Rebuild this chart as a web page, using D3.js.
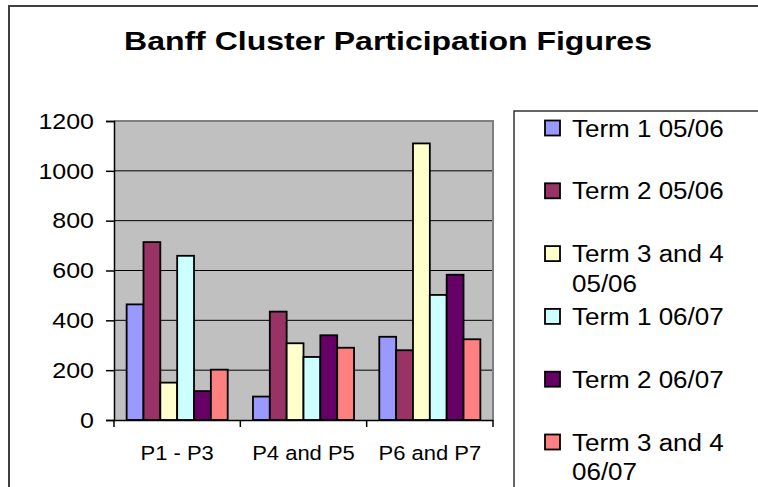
<!DOCTYPE html>
<html>
<head>
<meta charset="utf-8">
<script src="https://cdn.jsdelivr.net/npm/d3@7"></script>
<style>
  body { margin: 0; background: #fff; }
  text { font-family: "Liberation Sans", Arial, sans-serif; fill: #000; }
</style>
</head>
<body>
<script>
// data
var categories = ["P1 - P3", "P4 and P5", "P6 and P7"];
var seriesNames = [
  ["Term 1 05/06"],
  ["Term 2 05/06"],
  ["Term 3 and 4", "05/06"],
  ["Term 1 06/07"],
  ["Term 2 06/07"],
  ["Term 3 and 4", "06/07"]
];
var seriesColors = ["#9999ff", "#993366", "#ffffcc", "#ccffff", "#660066", "#ff8080"];
var term1_0506 = [464, 94, 334];
var term2_0506 = [714, 435, 280];
var term34_0506 = [150, 308, 1110];
var term1_0607 = [659, 253, 502];
var term2_0607 = [116, 340, 583];
var term34_0607 = [202, 290, 324];
var yTicks = [0, 200, 400, 600, 800, 1000, 1200];

var allSeries = [term1_0506, term2_0506, term34_0506, term1_0607, term2_0607, term34_0607];

var W = 758, H = 487;
var plot = {left: 114, top: 121, right: 493, bottom: 420};

var svg = d3.select("body").append("svg")
    .attr("width", W)
    .attr("height", H);

// outer chart frame
svg.append("rect")
    .attr("x", 9).attr("y", 6)
    .attr("width", W + 20).attr("height", H + 20)
    .attr("fill", "#fff")
    .attr("stroke", "#404040")
    .attr("stroke-width", 2);

// the original text is a bit squashed vertically, hence the scale(1, s)
svg.append("text")
    .attr("transform", "translate(388,50) scale(1,0.8)")
    .attr("text-anchor", "middle")
    .style("font-size", "32px")
    .style("font-weight", "bold")
    .text("Banff Cluster Participation Figures");

var x0 = d3.scaleBand()
    .domain(categories)
    .range([plot.left, plot.right])
    .padding(0);

var x1 = d3.scaleBand()
    .domain(d3.range(allSeries.length))
    .range([0, x0.bandwidth()])
    .paddingInner(0)
    .paddingOuter(0.75);

var y = d3.scaleLinear()
    .domain([0, 1200])
    .range([plot.bottom, plot.top]);

// plot background
svg.append("rect")
    .attr("x", plot.left).attr("y", plot.top)
    .attr("width", plot.right - plot.left)
    .attr("height", plot.bottom - plot.top)
    .attr("fill", "#c0c0c0");

// gridlines
svg.append("g")
  .selectAll("line")
  .data(yTicks.filter(function(d) { return d > 0 && d < 1200; }))
  .enter().append("line")
    .attr("x1", plot.left).attr("x2", plot.right)
    .attr("y1", function(d) { return y(d); })
    .attr("y2", function(d) { return y(d); })
    .attr("stroke", "#000")
    .attr("stroke-width", 1);

// plot border top/right
svg.append("path")
    .attr("d", "M" + plot.left + "," + plot.top + "H" + plot.right + "V" + plot.bottom)
    .attr("fill", "none")
    .attr("stroke", "#808080")
    .attr("stroke-width", 2);

// bars
var groups = svg.append("g")
  .selectAll("g")
  .data(categories)
  .enter().append("g")
    .attr("transform", function(d) { return "translate(" + x0(d) + ",0)"; });

groups.selectAll("rect")
  .data(function(d, i) {
      return allSeries.map(function(s, j) { return {series: j, value: s[i]}; });
  })
  .enter().append("rect")
    .attr("x", function(d) { return x1(d.series); })
    .attr("y", function(d) { return y(d.value); })
    .attr("width", x1.bandwidth())
    .attr("height", function(d) { return y(0) - y(d.value); })
    .attr("fill", function(d) { return seriesColors[d.series]; })
    .attr("stroke", "#000")
    .attr("stroke-width", 1.8);

// y axis
var yAxis = svg.append("g")
    .attr("transform", "translate(" + plot.left + ",0)")
    .call(d3.axisLeft(y).tickValues(yTicks).tickFormat(d3.format("d")).tickSize(8).tickPadding(12));
yAxis.select(".domain").attr("stroke", "#000").attr("stroke-width", 1.5);
yAxis.selectAll("line").attr("stroke", "#000").attr("stroke-width", 1.5);
yAxis.selectAll("text")
    .style("font-size", "25px")
    .style("font-family", "'Liberation Sans', Arial, sans-serif")
    .attr("fill", "#000")
    .attr("transform", "scale(1,0.9)");

// x axis
var xAxis = svg.append("g")
    .attr("transform", "translate(0," + plot.bottom + ")")
    .call(d3.axisBottom(x0).tickSize(0).tickPadding(26).tickSizeOuter(0));
xAxis.select(".domain").attr("stroke", "#000").attr("stroke-width", 1.5);
xAxis.selectAll("text")
    .style("font-size", "22px")
    .style("font-family", "'Liberation Sans', Arial, sans-serif")
    .attr("fill", "#000")
    .attr("transform", "scale(1,0.95)");
xAxis.selectAll(".sep")
  .data(d3.range(categories.length + 1))
  .enter().append("line")
    .attr("class", "sep")
    .attr("x1", function(i) { return plot.left + i * x0.step(); })
    .attr("x2", function(i) { return plot.left + i * x0.step(); })
    .attr("y1", 0).attr("y2", 7)
    .attr("stroke", "#000")
    .attr("stroke-width", 1.5);

// legend
svg.append("rect")
    .attr("x", 514).attr("y", 111)
    .attr("width", 300).attr("height", 450)
    .attr("fill", "#fff")
    .attr("stroke", "#333")
    .attr("stroke-width", 1.5);

var legend = svg.append("g")
  .selectAll("g")
  .data(seriesNames)
  .enter().append("g")
    .attr("transform", function(d, i) { return "translate(545," + (136.5 + i * 62.8) + ")"; });

legend.append("rect")
    .attr("x", 0).attr("y", -16)
    .attr("width", 15).attr("height", 15)
    .attr("fill", function(d, i) { return seriesColors[i]; })
    .attr("stroke", "#000")
    .attr("stroke-width", 1.8);

legend.append("text")
    .attr("transform", "scale(1,0.92)")
    .style("font-size", "26px")
  .selectAll("tspan")
  .data(function(d) { return d; })
  .enter().append("tspan")
    .attr("x", 27)
    .attr("y", function(d, i) { return i * 30 / 0.92; })
    .text(function(d) { return d; });
</script>
</body>
</html>
